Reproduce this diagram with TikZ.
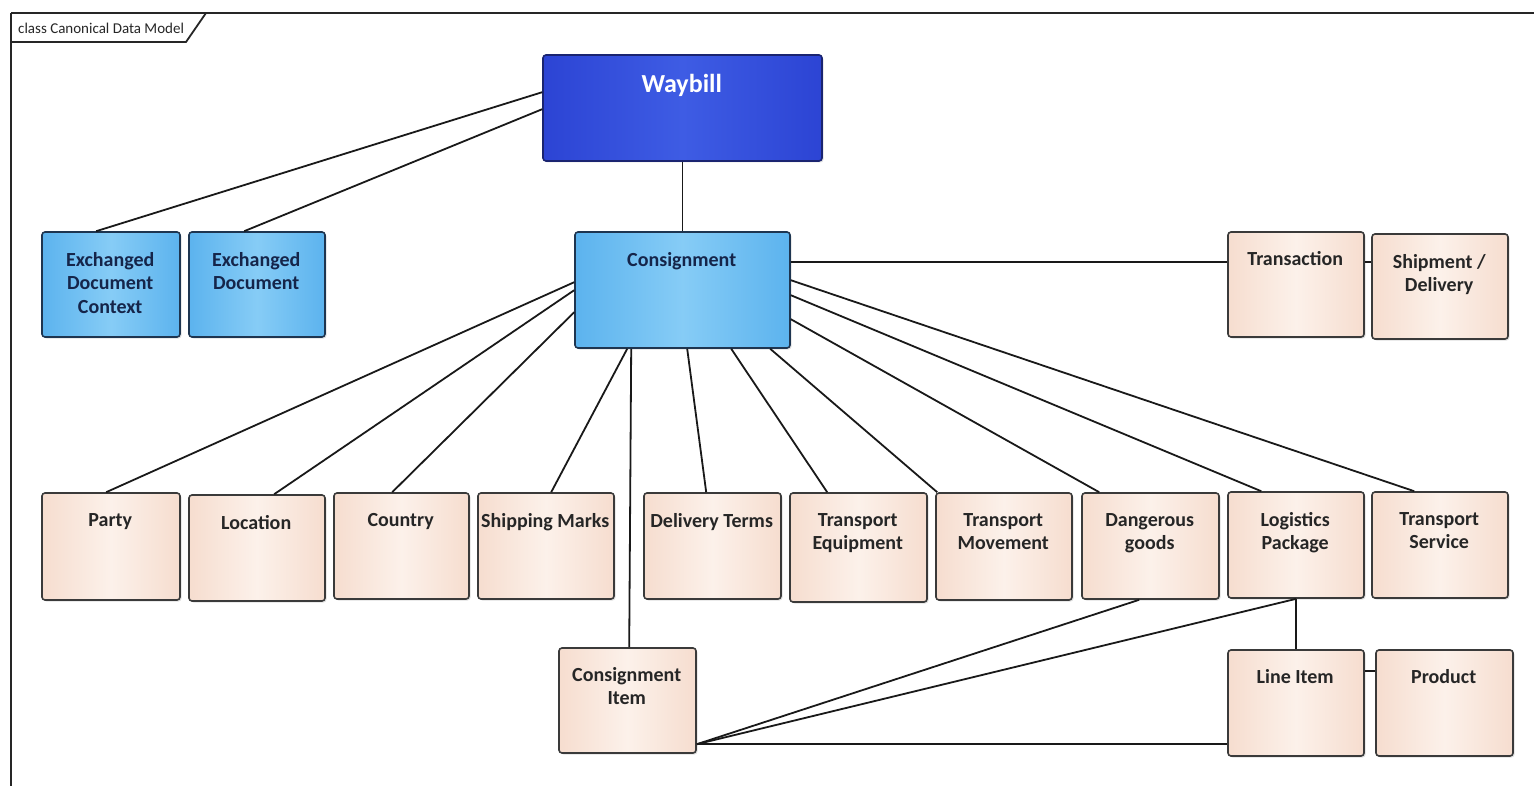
\documentclass[tikz,border=0pt]{standalone}
\usepackage{fontspec}
\setmainfont{Carlito}
\usetikzlibrary{calc,shadows}
\definecolor{wayA}{HTML}{2C44D4}
\definecolor{wayB}{HTML}{3E5CE4}
\definecolor{wayD}{HTML}{1A2470}
\definecolor{ltA}{HTML}{5CB3EE}
\definecolor{ltB}{HTML}{86CCF6}
\definecolor{ltD}{HTML}{1E3550}
\definecolor{pkA}{HTML}{F6DDCF}
\definecolor{pkB}{HTML}{FCF1EA}
\definecolor{pkD}{HTML}{3A3A3A}
\definecolor{txtN}{HTML}{15254A}
\definecolor{txtP}{HTML}{262626}
\tikzset{
  boxbase/.style={rectangle, rounded corners=3pt, line width=1.6pt, inner sep=0pt,
    drop shadow={shadow xshift=1.5pt, shadow yshift=-1.5pt, opacity=0.25}},
  dbox/.style={boxbase, draw=wayD, left color=wayA, right color=wayA, middle color=wayB},
  lbox/.style={boxbase, draw=ltD, left color=ltA, right color=ltA, middle color=ltB},
  pbox/.style={boxbase, draw=pkD, left color=pkA, right color=pkA, middle color=pkB},
  ltxt/.style={anchor=north, inner sep=0pt, align=center, font=\fontsize{20}{23.5}\selectfont\bfseries, text=txtN},
  ptxt/.style={anchor=north, inner sep=0pt, align=center, font=\fontsize{20}{23.5}\selectfont\bfseries, text=txtP},
  wtxt/.style={anchor=north, inner sep=0pt, align=center, font=\fontsize{26}{30}\selectfont\bfseries, text=white},
  conn/.style={draw=black!90, line width=1.8pt},
  framel/.style={draw=black!85, line width=1.8pt},
}
\begin{document}
\begin{tikzpicture}[x=1pt, y=-1pt]
\useasboundingbox (0,0) rectangle (1534,786);
% frame
\draw[framel] (11,786) -- (11,13);
\draw[draw=black!85, line width=2.6pt] (11,13) -- (1534,13);
\node[anchor=west, inner sep=0pt, font=\fontsize{15}{17}\selectfont, text=black!85] (flabel) at (18,28) {class Canonical Data Model};
\draw[framel] (11,42) -- (186,42) -- (206,13);

% boxes
\node[dbox, minimum width=279pt, minimum height=106pt] (way) at (682.5,108) {};
\node[wtxt] (wayt) at ($(way.north west)+(139.5,20)$) {Waybill};

\node[lbox, minimum width=215pt, minimum height=116pt] (cons) at (682.5,290) {};
\node[ltxt] (const) at ($(cons.north west)+(107.5,21)$) {Consignment};

\node[lbox, minimum width=138pt, minimum height=105pt] (edc) at (111,284.5) {};
\node[ltxt] (edct) at ($(edc.north west)+(69,21)$) {Exchanged\\Document\\Context};

\node[lbox, minimum width=136pt, minimum height=105pt] (ed) at (257,284.5) {};
\node[ltxt] (edt) at ($(ed.north west)+(68,21)$) {Exchanged\\Document};

\node[pbox, minimum width=136pt, minimum height=105pt] (trans) at (1296,284.5) {};
\node[ptxt] (transt) at ($(trans.north west)+(68,20)$) {Transaction};

\node[pbox, minimum width=136pt, minimum height=105pt] (ship) at (1440,286.5) {};
\node[ptxt] (shipt) at ($(ship.north west)+(68,21)$) {Shipment /\\Delivery};

\node[pbox, minimum width=138pt, minimum height=107pt] (party) at (111,546.5) {};
\node[ptxt] (partyt) at ($(party.north west)+(69,21)$) {Party};

\node[pbox, minimum width=136pt, minimum height=106pt] (loc) at (257,548) {};
\node[ptxt] (loct) at ($(loc.north west)+(68,21)$) {Location};

\node[pbox, minimum width=135pt, minimum height=106pt] (country) at (401.5,546) {};
\node[ptxt] (countryt) at ($(country.north west)+(67.5,21)$) {Country};

\node[pbox, minimum width=136pt, minimum height=106pt] (marks) at (546,546) {};
\node[ptxt] (markst) at ($(marks.north west)+(68,21)$) {Shipping Marks};

\node[pbox, minimum width=137pt, minimum height=106pt] (dterms) at (712.5,546) {};
\node[ptxt] (dtermst) at ($(dterms.north west)+(68.5,21)$) {Delivery Terms};

\node[pbox, minimum width=137pt, minimum height=109pt] (teq) at (858.5,547.5) {};
\node[ptxt] (teqt) at ($(teq.north west)+(68.5,21)$) {Transport\\Equipment};

\node[pbox, minimum width=136pt, minimum height=107pt] (tmov) at (1004,546.5) {};
\node[ptxt] (tmovt) at ($(tmov.north west)+(68,21)$) {Transport\\Movement};

\node[pbox, minimum width=137pt, minimum height=106pt] (dang) at (1150.5,546) {};
\node[ptxt] (dangt) at ($(dang.north west)+(68.5,21)$) {Dangerous\\goods};

\node[pbox, minimum width=136pt, minimum height=106pt] (lpk) at (1296,545) {};
\node[ptxt] (lpkt) at ($(lpk.north west)+(68,21)$) {Logistics\\Package};

\node[pbox, minimum width=136pt, minimum height=106pt] (tsvc) at (1440,545) {};
\node[ptxt] (tsvct) at ($(tsvc.north west)+(68,21)$) {Transport\\Service};

\node[pbox, minimum width=137pt, minimum height=105pt] (citem) at (627.5,700.5) {};
\node[ptxt] (citemt) at ($(citem.north west)+(68.5,20)$) {Consignment\\Item};

\node[pbox, minimum width=136pt, minimum height=106pt] (litem) at (1296,703) {};
\node[ptxt] (litemt) at ($(litem.north west)+(68,20)$) {Line Item};

\node[pbox, minimum width=137pt, minimum height=106pt] (prod) at (1444.5,703) {};
\node[ptxt] (prodt) at ($(prod.north west)+(68.5,20)$) {Product};

% connectors
\draw[conn] ($(way.north west)+(0,38)$) -- ($(edc.north west)+(55,0)$);
\draw[conn] ($(way.north west)+(0,55)$) -- ($(ed.north west)+(56,0)$);
\draw[conn] (way.south) -- (cons.north);
\draw[conn] ($(cons.north east)+(0,31)$) -- ($(trans.north west)+(0,31)$);
\draw[conn] ($(trans.north east)+(0,31)$) -- ($(ship.north west)+(0,29)$);
\draw[conn] ($(cons.north west)+(0,51)$) -- ($(party.north west)+(65,0)$);
\draw[conn] ($(cons.north west)+(0,59)$) -- ($(loc.north west)+(86,0)$);
\draw[conn] ($(cons.north west)+(0,81)$) -- ($(country.north west)+(59,0)$);
\draw[conn] ($(cons.south west)+(53,0)$) -- ($(marks.north west)+(74,0)$);
\draw[conn] ($(cons.south west)+(57,0)$) -- ($(citem.north west)+(71,0)$);
\draw[conn] ($(cons.south west)+(113,0)$) -- ($(dterms.north west)+(63,0)$);
\draw[conn] ($(cons.south west)+(157,0)$) -- ($(teq.north west)+(38,0)$);
\draw[conn] ($(cons.south west)+(196,0)$) -- ($(tmov.north west)+(2,0)$);
\draw[conn] ($(cons.north east)+(0,88)$) -- ($(dang.north west)+(18,0)$);
\draw[conn] ($(cons.north east)+(0,64)$) -- ($(lpk.north west)+(34,0)$);
\draw[conn] ($(cons.north east)+(0,49)$) -- ($(tsvc.north west)+(43,0)$);
\draw[conn] ($(citem.north east)+(0,97)$) -- ($(dang.south west)+(58,0)$);
\draw[conn] ($(citem.north east)+(0,97)$) -- ($(lpk.south west)+(69,0)$);
\draw[conn] ($(citem.north east)+(0,97)$) -- ($(litem.north west)+(0,95)$);
\draw[conn] ($(lpk.south west)+(69,0)$) -- ($(litem.north west)+(69,0)$);
\draw[conn] ($(litem.north east)+(0,22)$) -- ($(prod.north west)+(0,22)$);
\end{tikzpicture}
\end{document}
